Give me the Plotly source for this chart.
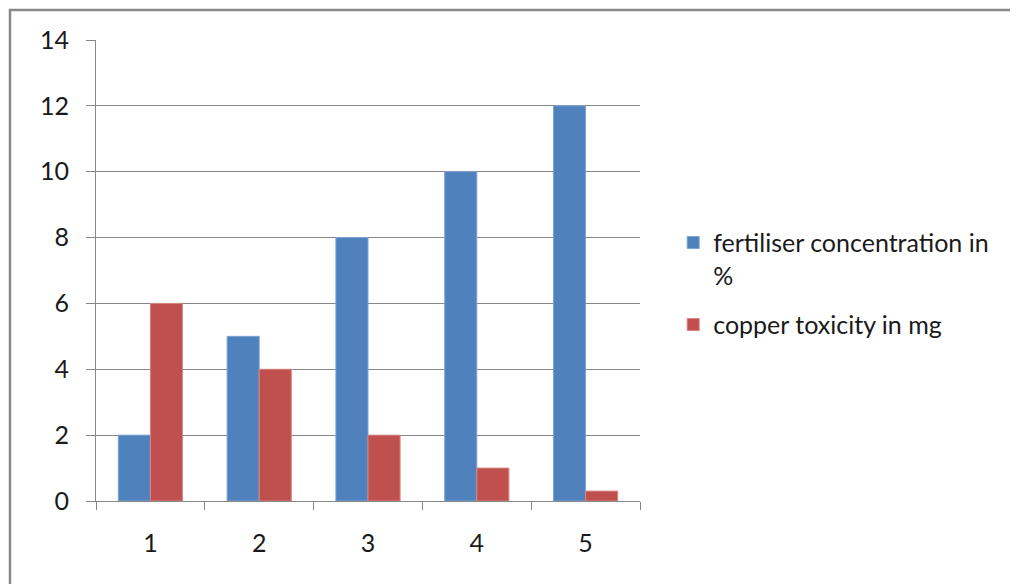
import plotly.graph_objects as go

categories = ["1", "2", "3", "4", "5"]
fertiliser = [2, 5, 8, 10, 12]
copper = [6, 4, 2, 1, 0.3]
series_names = ["fertiliser concentration in<br>%", "copper toxicity in mg"]
y_ticks = [0, 2, 4, 6, 8, 10, 12, 14]

FONT = "Lato"
GRID = "#878787"
FS = 25

fig = go.Figure()
fig.add_trace(go.Bar(x=categories, y=fertiliser, name=series_names[0], legendgroup="a",
                     marker=dict(color="#4F81BD", line=dict(color="#7EA3D6", width=1))))
fig.add_trace(go.Bar(x=categories, y=copper, name=series_names[1], legendgroup="b",
                     marker=dict(color="#C0504D", line=dict(color="#D88583", width=1))))

fig.update_layout(
    width=1018, height=584,
    margin=dict(l=88, r=386, t=32, b=91),
    paper_bgcolor="white", plot_bgcolor="white",
    barmode="group", bargap=0.41, bargroupgap=0,
    font=dict(family=FONT, size=FS, color="#1a1a1a"),
    showlegend=True,
    legend=dict(x=1.061, y=0.61, xanchor="left", yanchor="top", valign="top",
                font=dict(family=FONT, size=FS, color="#1a1a1a"),
                tracegroupgap=14, itemwidth=30, bgcolor="rgba(0,0,0,0)"),
    xaxis=dict(type="category", tickson="boundaries", ticks="outside", ticklen=8,
               tickcolor=GRID, showline=True, linecolor=GRID, linewidth=1,
               showgrid=False, ticklabelstandoff=20, tickfont=dict(size=FS)),
    yaxis=dict(range=[0, 14], tickvals=y_ticks, ticks="outside", ticklen=9,
               tickcolor=GRID, showline=True, linecolor=GRID, linewidth=1,
               showgrid=True, gridcolor=GRID, gridwidth=1, zeroline=False,
               ticklabelstandoff=12, tickfont=dict(size=FS)),
    shapes=[dict(type="rect", xref="paper", yref="paper",
                 x0=(2 - 88) / 544, x1=2.0, y0=-0.5, y1=(493 - 2) / 461,
                 line=dict(color="#888888", width=2.5), layer="below")],
)

fig.write_html("out.html")
